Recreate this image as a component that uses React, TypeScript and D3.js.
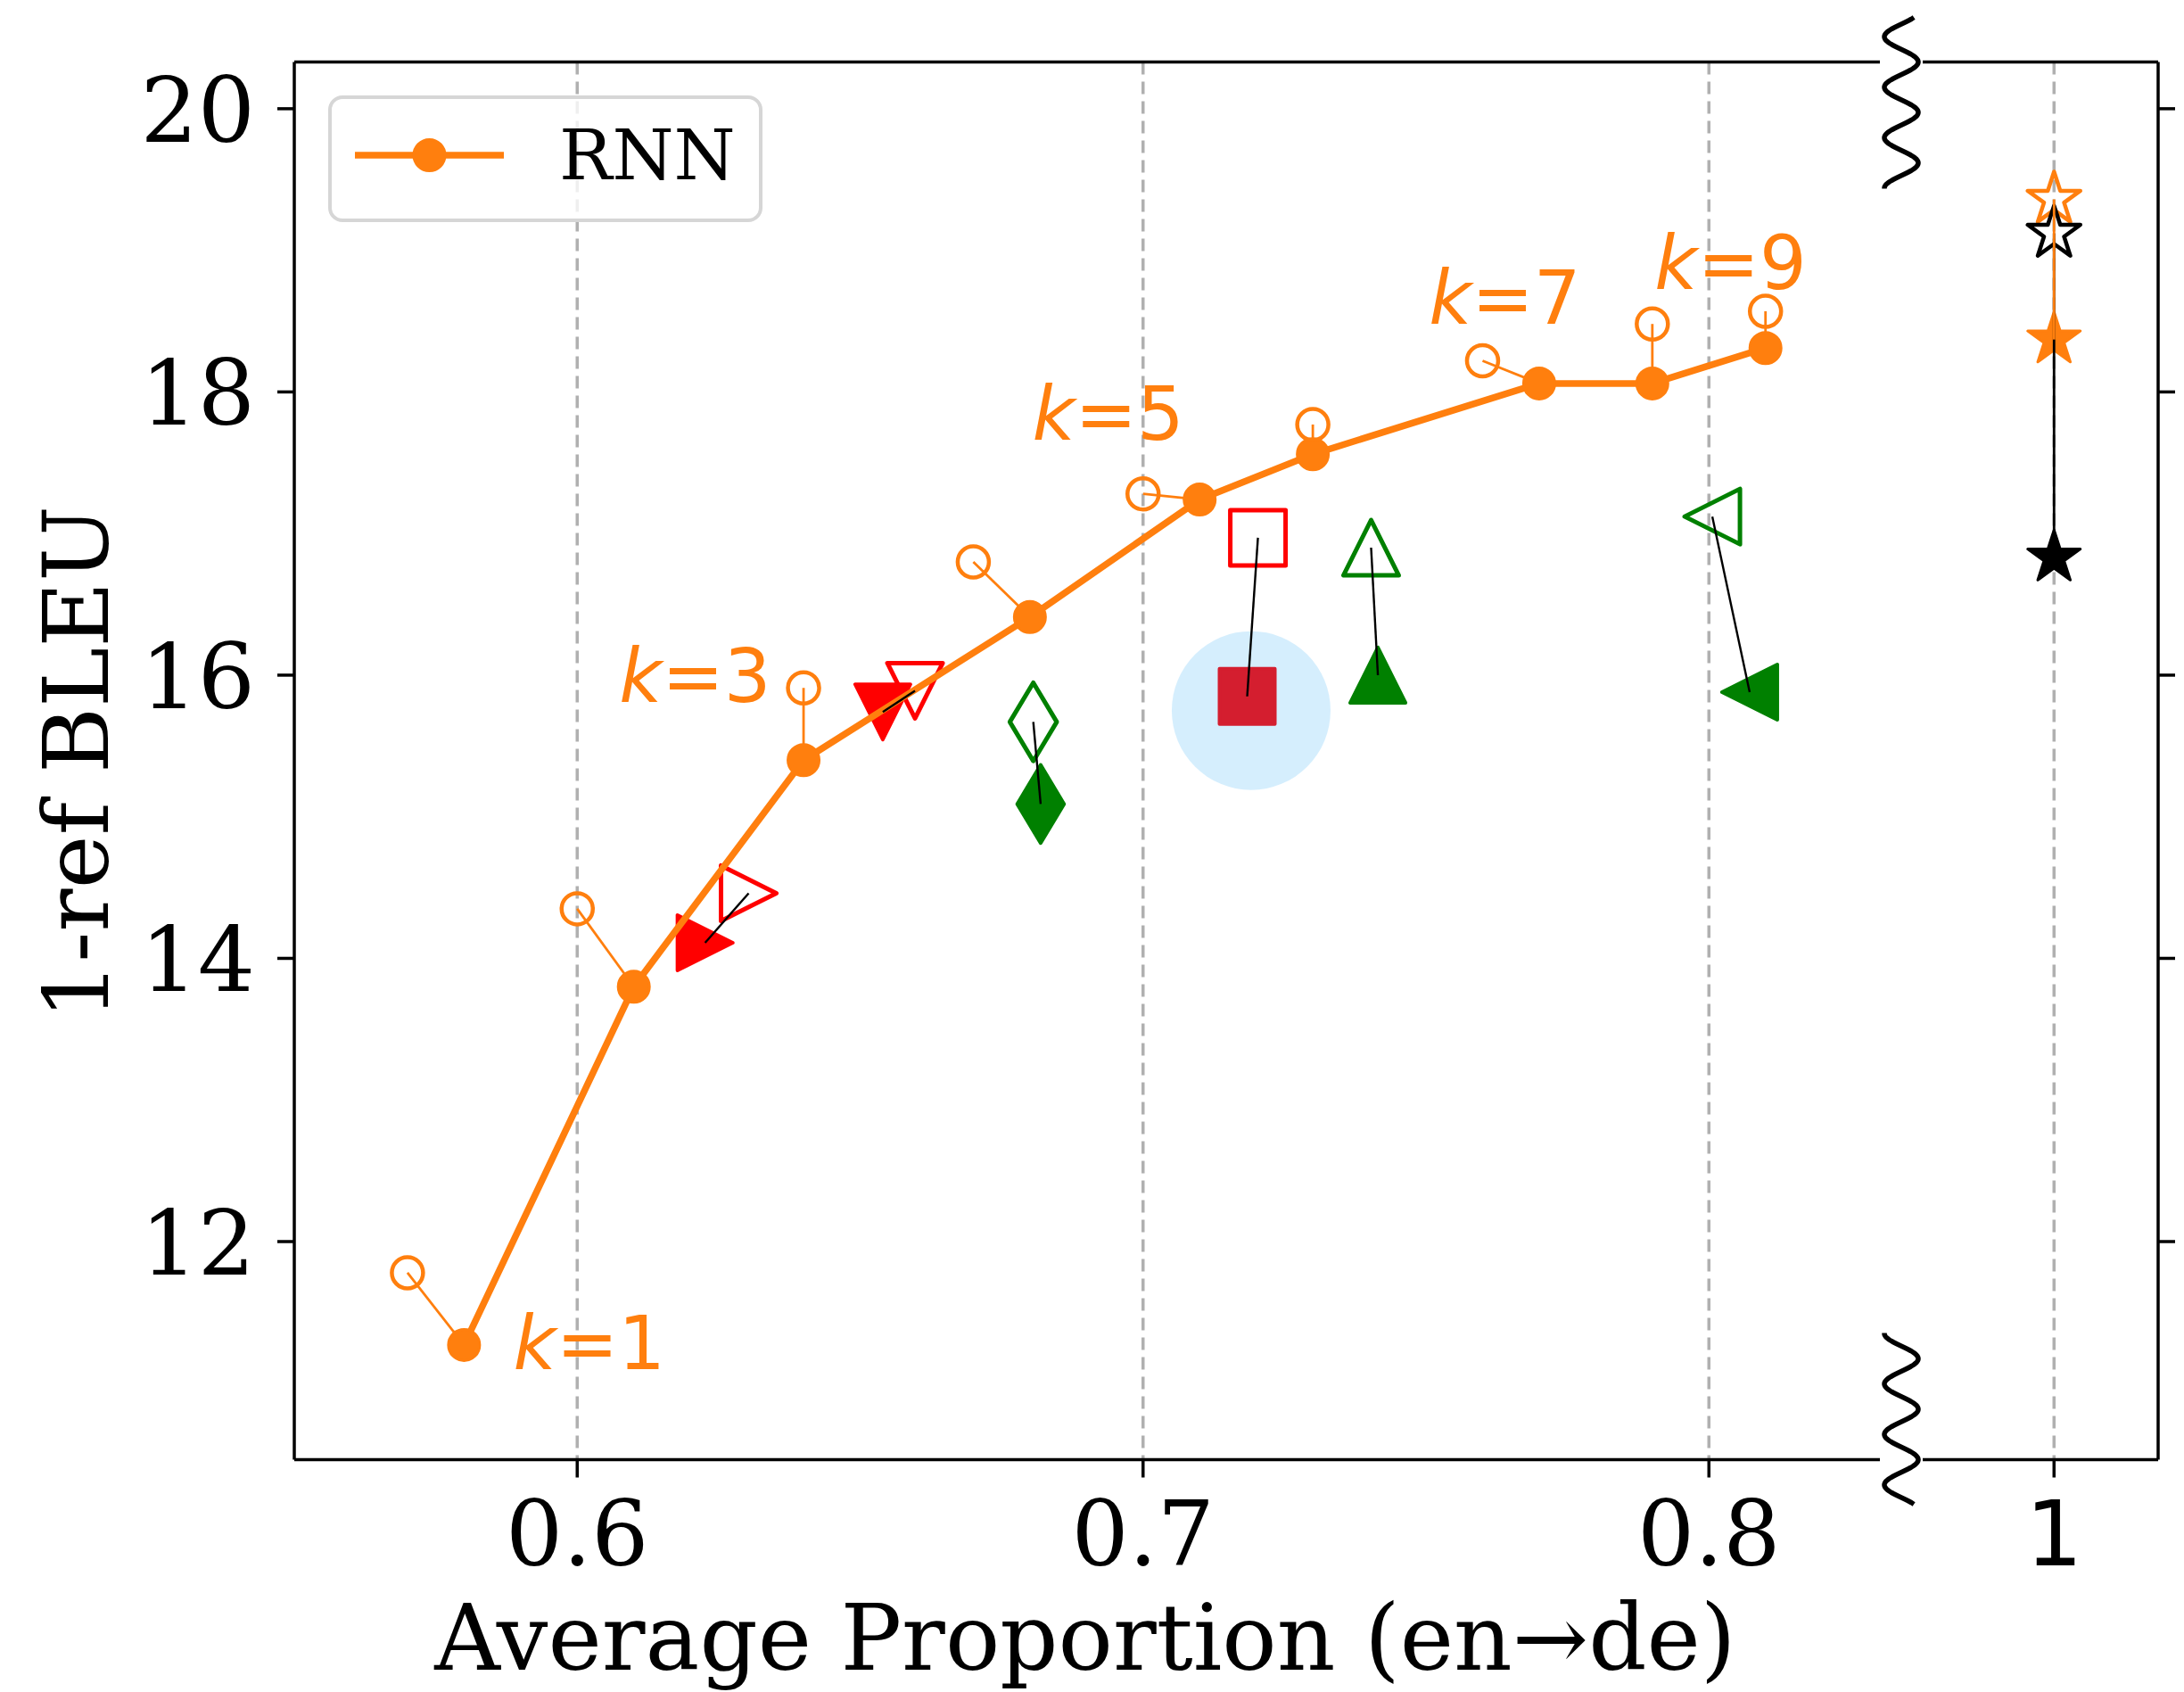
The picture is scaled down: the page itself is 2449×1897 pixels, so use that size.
import React from 'react'
import * as d3 from 'd3'

// RNN with k = 1..9
const kValues = [1, 2, 3, 4, 5, 6, 7, 8, 9]
const rnnProportion = [0.58, 0.61, 0.64, 0.68, 0.71, 0.73, 0.77, 0.79, 0.81]
const rnnBleu = [11.27, 13.8, 15.4, 16.41, 17.24, 17.56, 18.06, 18.06, 18.31]
// hollow orange circles (paired with each RNN point)
const rnnAltProportion = [0.57, 0.6, 0.64, 0.67, 0.7, 0.73, 0.76, 0.79, 0.81]
const rnnAltBleu = [11.78, 14.35, 15.91, 16.8, 17.28, 17.77, 18.22, 18.48, 18.57]

// k labels (data coords of the text start / baseline)
const kLabelText = ['1', '3', '5', '7', '9']
const kLabelX = [0.5887, 0.6074, 0.6804, 0.7505, 0.7904]
const kLabelY = [11.1, 15.81, 17.66, 18.48, 18.73]

// other systems: hollow marker -> filled marker
const otherMarker = ['triRight', 'triDown', 'thinDiamond', 'square', 'triUp', 'triLeft']
const otherHollowColor = ['#ff0000', '#ff0000', '#008000', '#ff0000', '#008000', '#008000']
const otherFilledColor = ['#ff0000', '#ff0000', '#008000', '#d41e2f', '#008000', '#008000']
const otherHollowX = [0.6303, 0.6597, 0.6806, 0.7203, 0.7403, 0.8006]
const otherHollowY = [14.46, 15.89, 15.67, 16.97, 16.9, 17.12]
const otherFilledX = [0.6226, 0.654, 0.6819, 0.7184, 0.7415, 0.8072]
const otherFilledY = [14.11, 15.74, 15.09, 15.85, 16.0, 15.88]

// full proportion (x = 1) stars
const starColor = ['#ff7f0e', '#000000']
const starHollowY = [19.36, 19.12]
const starFilledY = [18.37, 16.83]

// highlighted point
const highlight = { x: 0.7191, y: 15.75 }

const xTicks = [0.6, 0.7, 0.8, 1]
const xTickLabels = ['0.6', '0.7', '0.8', '1']
const yTicks = [12, 14, 16, 18, 20]

const W = 2449
const H = 1897
const left = 330
const right = 2420
const top = 69.5
const bottom = 1636.5
const breakX = 2132
const gap = 24

const ORANGE = '#ff7f0e'
const SERIF = 'DejaVu Serif'
const SANS = 'DejaVu Sans'

const xScale = d3.scaleLinear()
  .domain([0.55, 0.834, 0.973, 1.0184])
  .range([left, breakX, breakX, right])
const yScale = d3.scaleLinear().domain([10.46, 20.33]).range([bottom, top])

// matplotlib-like marker shapes for d3.symbol (size = marker size in px)
const poly = (pts: number[][]) => ({
  draw(ctx: any, s: number) {
    pts.forEach(([x, y], i) => (i ? ctx.lineTo(x * s, y * s) : ctx.moveTo(x * s, y * s)))
    ctx.closePath()
  }
})
const starPts: number[][] = []
for (let i = 0; i < 10; i++) {
  const r = i % 2 === 0 ? 0.5 : 0.5 * 0.381966
  const a = -Math.PI / 2 + (i * Math.PI) / 5
  starPts.push([r * Math.cos(a), r * Math.sin(a)])
}
const markerTypes: Record<string, any> = {
  circle: {
    draw(ctx: any, s: number) {
      ctx.moveTo(s / 2, 0)
      ctx.arc(0, 0, s / 2, 0, 2 * Math.PI)
    }
  },
  triUp: poly([[0, -0.5], [-0.5, 0.5], [0.5, 0.5]]),
  triDown: poly([[0, 0.5], [-0.5, -0.5], [0.5, -0.5]]),
  triRight: poly([[0.5, 0], [-0.5, -0.5], [-0.5, 0.5]]),
  triLeft: poly([[-0.5, 0], [0.5, -0.5], [0.5, 0.5]]),
  square: poly([[-0.5, -0.5], [0.5, -0.5], [0.5, 0.5], [-0.5, 0.5]]),
  thinDiamond: poly([[0, -0.7071], [0.4243, 0], [0, 0.7071], [-0.4243, 0]]),
  star: poly(starPts)
}
const markerPath = (type: string, size: number) => d3.symbol(markerTypes[type], size)() as string

// break mark (vertical wave)
const wave = (spineY: number, from: number, to: number) => {
  const pts: [number, number][] = []
  for (let y = spineY + from; y <= spineY + to; y += 1) {
    pts.push([breakX + 19 * Math.cos((Math.PI * (y - spineY)) / 28.3), y])
  }
  return d3.line()(pts) as string
}

const App = () => {
  const rnnLine = d3.line<number>()
    .x((_, i) => xScale(rnnProportion[i]))
    .y((_, i) => yScale(rnnBleu[i]))

  return (
    <svg width={W} height={H} style={{ position: 'absolute', left: 0, top: 0, background: '#fff' }}>
      <rect x={0} y={0} width={W} height={H} fill="#fff" />

      {/* grid */}
      {xTicks.map(t => (
        <line key={'g' + t} x1={xScale(t)} x2={xScale(t)} y1={top} y2={bottom}
          stroke="#b0b0b0" strokeWidth={3.5} strokeDasharray="14 8" />
      ))}

      {/* highlight */}
      <circle cx={xScale(highlight.x)} cy={yScale(highlight.y)} r={89} fill="#87cefa" fillOpacity={0.35} />

      {/* other systems */}
      {otherMarker.map((m, i) => (
        <g key={'o' + i}>
          <path d={markerPath(m, 62)} transform={`translate(${xScale(otherFilledX[i])},${yScale(otherFilledY[i])})`}
            fill={otherFilledColor[i]} stroke={otherFilledColor[i]} strokeWidth={4} strokeLinejoin="round" />
          <path d={markerPath(m, 62)} transform={`translate(${xScale(otherHollowX[i])},${yScale(otherHollowY[i])})`}
            fill="none" stroke={otherHollowColor[i]} strokeWidth={5} strokeLinejoin="round" />
        </g>
      ))}

      {/* stars at x = 1 */}
      {starColor.map((c, i) => (
        <g key={'s' + i}>
          <path d={markerPath('star', 62)} transform={`translate(${xScale(1)},${yScale(starFilledY[i])})`}
            fill={c} stroke={c} strokeWidth={3} strokeLinejoin="round" />
          <path d={markerPath('star', 62)} transform={`translate(${xScale(1)},${yScale(starHollowY[i])})`}
            fill="none" stroke={c} strokeWidth={4.5} strokeLinejoin="round" />
        </g>
      ))}
      {[1, 0].map(i => (
        <line key={'sl' + i} x1={xScale(1)} x2={xScale(1)} y1={yScale(starHollowY[i])} y2={yScale(starFilledY[i])}
          stroke={starColor[i]} strokeWidth={2.8} />
      ))}

      {/* RNN */}
      {kValues.map((k, i) => (
        <line key={'rl' + k} x1={xScale(rnnAltProportion[i])} y1={yScale(rnnAltBleu[i])}
          x2={xScale(rnnProportion[i])} y2={yScale(rnnBleu[i])} stroke={ORANGE} strokeWidth={2.8} />
      ))}
      <path d={rnnLine(kValues) as string} fill="none" stroke={ORANGE} strokeWidth={7.5} strokeLinejoin="round" />
      {kValues.map((k, i) => (
        <path key={'rf' + k} d={markerPath('circle', 35)}
          transform={`translate(${xScale(rnnProportion[i])},${yScale(rnnBleu[i])})`}
          fill={ORANGE} stroke={ORANGE} strokeWidth={3} />
      ))}
      {kValues.map((k, i) => (
        <path key={'rh' + k} d={markerPath('circle', 35)}
          transform={`translate(${xScale(rnnAltProportion[i])},${yScale(rnnAltBleu[i])})`}
          fill="none" stroke={ORANGE} strokeWidth={4.5} />
      ))}

      {/* connectors for other systems */}
      {otherMarker.map((m, i) => (
        <line key={'ol' + i} x1={xScale(otherHollowX[i])} y1={yScale(otherHollowY[i])}
          x2={xScale(otherFilledX[i])} y2={yScale(otherFilledY[i])} stroke="#000" strokeWidth={2.4} />
      ))}

      {/* k labels */}
      {kLabelText.map((t, i) => (
        <text key={'k' + t} x={xScale(kLabelX[i])} y={yScale(kLabelY[i])} fill={ORANGE}
          fontFamily={SANS} fontSize={83}>
          <tspan fontStyle="italic">k</tspan>={t}
        </text>
      ))}

      {/* spines */}
      <g stroke="#000" strokeWidth={3.5} fill="none">
        <line x1={left} x2={left} y1={top} y2={bottom} />
        <line x1={right} x2={right} y1={top} y2={bottom} />
        <line x1={left} x2={breakX - gap} y1={top} y2={top} />
        <line x1={breakX + gap} x2={right} y1={top} y2={top} />
        <line x1={left} x2={breakX - gap} y1={bottom} y2={bottom} />
        <line x1={breakX + gap} x2={right} y1={bottom} y2={bottom} />
      </g>

      {/* break marks */}
      <path d={wave(top, -50, 142)} fill="none" stroke="#000" strokeWidth={5.5} />
      <path d={wave(bottom, -142, 50)} fill="none" stroke="#000" strokeWidth={5.5} />

      {/* y ticks */}
      {yTicks.map(t => (
        <g key={'y' + t}>
          <line x1={left - 19} x2={left} y1={yScale(t)} y2={yScale(t)} stroke="#000" strokeWidth={3.5} />
          <line x1={right} x2={right + 19} y1={yScale(t)} y2={yScale(t)} stroke="#000" strokeWidth={3.5} />
          <text x={left - 44} y={yScale(t) + 37} textAnchor="end" fontFamily={SERIF} fontSize={101}>{t}</text>
        </g>
      ))}

      {/* x ticks */}
      {xTicks.map((t, i) => (
        <g key={'x' + t}>
          <line x1={xScale(t)} x2={xScale(t)} y1={bottom} y2={bottom + 20} stroke="#000" strokeWidth={3.5} />
          <text x={xScale(t)} y={1755} textAnchor="middle" fontFamily={t === 1 ? SANS : SERIF} fontSize={101}>
            {xTickLabels[i]}
          </text>
        </g>
      ))}

      {/* axis labels */}
      <text x={1217} y={1872} textAnchor="middle" fontFamily={SERIF} fontSize={102}>
        Average Proportion (en→de)
      </text>
      <text transform="translate(121,855) rotate(-90)" textAnchor="middle" fontFamily={SERIF} fontSize={101}>
        1-ref BLEU
      </text>

      {/* legend */}
      <rect x={370} y={109} width={483} height={138} rx={14} fill="#fff" fillOpacity={0.8}
        stroke="#d6d6d6" strokeWidth={4} />
      <line x1={398} x2={565} y1={174} y2={174} stroke={ORANGE} strokeWidth={7.5} />
      <path d={markerPath('circle', 35)} transform="translate(481.5,174)" fill={ORANGE} stroke={ORANGE} strokeWidth={3} />
      <text x={627} y={201} fontFamily={SERIF} fontSize={79}>RNN</text>
    </svg>
  )
}

export default App
